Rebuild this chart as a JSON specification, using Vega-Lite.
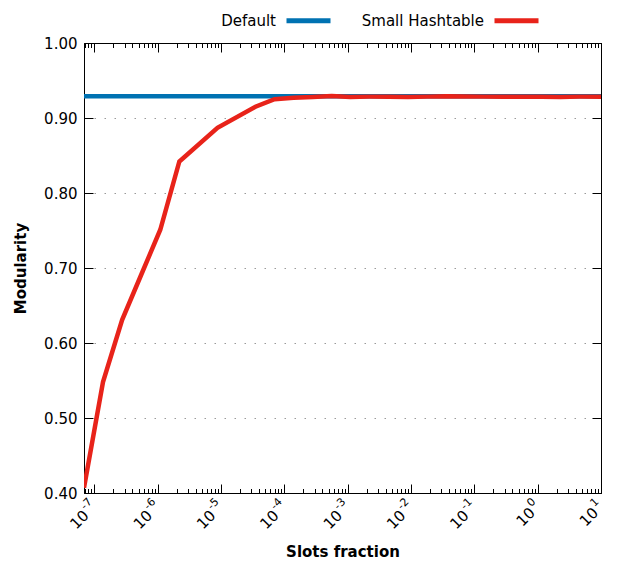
{
  "$schema": "https://vega.github.io/schema/vega-lite/v6.json",
  "width": 517,
  "height": 450,
  "autosize": {"type": "none"},
  "padding": {"left": 84, "top": 43, "right": 30, "bottom": 75},
  "background": "white",
  "config": {
    "view": {"stroke": "black", "strokeWidth": 1},
    "axis": {
      "labelFont": "DejaVu Sans",
      "labelFontSize": 15,
      "labelColor": "black",
      "titleFont": "DejaVu Sans",
      "titleFontSize": 15,
      "titleFontWeight": "bold",
      "titleColor": "black",
      "domainColor": "black",
      "tickColor": "black",
      "tickWidth": 1,
      "domainWidth": 1
    },
    "legend": {
      "labelFont": "DejaVu Sans",
      "labelFontSize": 15,
      "labelColor": "black"
    }
  },
  "datasets": {
    "series": [
      {"series": "Default", "x": 6.87e-8, "y": 0.929},
      {"series": "Default", "x": 1.37e-7, "y": 0.929},
      {"series": "Default", "x": 2.75e-7, "y": 0.929},
      {"series": "Default", "x": 5.5e-7, "y": 0.929},
      {"series": "Default", "x": 1.1e-6, "y": 0.929},
      {"series": "Default", "x": 2.2e-6, "y": 0.929},
      {"series": "Default", "x": 8.8e-6, "y": 0.929},
      {"series": "Default", "x": 3.5e-5, "y": 0.929},
      {"series": "Default", "x": 7.0e-5, "y": 0.929},
      {"series": "Default", "x": 1.4e-4, "y": 0.929},
      {"series": "Default", "x": 2.8e-4, "y": 0.929},
      {"series": "Default", "x": 5.6e-4, "y": 0.929},
      {"series": "Default", "x": 1.1e-3, "y": 0.929},
      {"series": "Default", "x": 4.5e-3, "y": 0.929},
      {"series": "Default", "x": 1.8e-2, "y": 0.929},
      {"series": "Default", "x": 7.2e-2, "y": 0.929},
      {"series": "Default", "x": 0.29, "y": 0.929},
      {"series": "Default", "x": 1.15, "y": 0.929},
      {"series": "Default", "x": 4.6, "y": 0.929},
      {"series": "Default", "x": 10, "y": 0.929},
      {"series": "Small Hashtable", "x": 6.87e-8, "y": 0.407},
      {"series": "Small Hashtable", "x": 1.37e-7, "y": 0.548},
      {"series": "Small Hashtable", "x": 2.75e-7, "y": 0.631},
      {"series": "Small Hashtable", "x": 5.5e-7, "y": 0.691},
      {"series": "Small Hashtable", "x": 1.1e-6, "y": 0.751},
      {"series": "Small Hashtable", "x": 2.2e-6, "y": 0.842},
      {"series": "Small Hashtable", "x": 8.8e-6, "y": 0.887},
      {"series": "Small Hashtable", "x": 3.5e-5, "y": 0.915},
      {"series": "Small Hashtable", "x": 7.0e-5, "y": 0.925},
      {"series": "Small Hashtable", "x": 1.4e-4, "y": 0.927},
      {"series": "Small Hashtable", "x": 2.8e-4, "y": 0.928},
      {"series": "Small Hashtable", "x": 5.6e-4, "y": 0.9293},
      {"series": "Small Hashtable", "x": 1.1e-3, "y": 0.928},
      {"series": "Small Hashtable", "x": 2.2e-3, "y": 0.9285},
      {"series": "Small Hashtable", "x": 4.5e-3, "y": 0.9285},
      {"series": "Small Hashtable", "x": 9.0e-3, "y": 0.928},
      {"series": "Small Hashtable", "x": 1.8e-2, "y": 0.9285},
      {"series": "Small Hashtable", "x": 3.6e-2, "y": 0.929},
      {"series": "Small Hashtable", "x": 7.2e-2, "y": 0.9287},
      {"series": "Small Hashtable", "x": 0.14, "y": 0.9285},
      {"series": "Small Hashtable", "x": 0.29, "y": 0.9285},
      {"series": "Small Hashtable", "x": 0.57, "y": 0.9285},
      {"series": "Small Hashtable", "x": 1.15, "y": 0.9285},
      {"series": "Small Hashtable", "x": 2.3, "y": 0.928},
      {"series": "Small Hashtable", "x": 4.6, "y": 0.9285},
      {"series": "Small Hashtable", "x": 10, "y": 0.9285}
    ]
  },
  "data": {"name": "series"},
  "resolve": {"axis": {"x": "independent", "y": "independent"}},
  "layer": [
    {
      "transform": [{"filter": "datum.series == 'Default'"}],
      "mark": {"type": "line", "strokeWidth": 4.5, "clip": true},
      "encoding": {
        "x": {
          "field": "x", "type": "quantitative",
          "scale": {"type": "log", "domain": [6.87e-8, 10], "nice": false},
          "axis": {
            "orient": "bottom",
            "title": "Slots fraction",
            "titleY": 58,
            "titleBaseline": "middle",
            "values": [1e-7, 1e-6, 1e-5, 1e-4, 1e-3, 1e-2, 1e-1, 1, 10],
            "labels": false,
            "tickSize": -9,
            "grid": false
          }
        },
        "y": {
          "field": "y", "type": "quantitative",
          "scale": {"domain": [0.4, 1.0], "nice": false, "zero": false},
          "axis": {
            "orient": "left",
            "title": "Modularity",
            "titleX": -64,
            "titleBaseline": "middle",
            "values": [0.4, 0.5, 0.6, 0.7, 0.8, 0.9, 1.0],
            "format": ".2f",
            "tickSize": -9,
            "labelPadding": 16,
            "grid": true,
            "gridColor": "#9a9a9a",
            "gridDash": [1.5, 8.5],
            "gridWidth": 1
          }
        },
        "color": {
          "field": "series", "type": "nominal",
          "scale": {"domain": ["Default", "Small Hashtable"], "range": ["#0072b2", "#e8231a"]},
          "legend": {
            "title": null,
            "orient": "none",
            "legendX": 200,
            "legendY": -47,
            "direction": "horizontal",
            "symbolType": "stroke",
            "symbolSize": 1936,
            "symbolStrokeWidth": 5,
            "labelAlign": "right",
            "labelOffset": -57,
            "columnPadding": 20
          }
        }
      }
    },
    {
      "transform": [{"filter": "datum.series == 'Small Hashtable'"}],
      "mark": {"type": "line", "strokeWidth": 4.5, "clip": true},
      "encoding": {
        "x": {
          "field": "x", "type": "quantitative",
          "scale": {"type": "log", "domain": [6.87e-8, 10], "nice": false},
          "axis": {
            "orient": "top",
            "title": null,
            "labels": false,
            "values": [1e-7, 1e-6, 1e-5, 1e-4, 1e-3, 1e-2, 1e-1, 1, 10],
            "tickSize": -9,
            "grid": false
          }
        },
        "y": {
          "field": "y", "type": "quantitative",
          "scale": {"domain": [0.4, 1.0], "nice": false, "zero": false},
          "axis": {
            "orient": "right",
            "title": null,
            "labels": false,
            "values": [0.4, 0.5, 0.6, 0.7, 0.8, 0.9, 1.0],
            "tickSize": -9,
            "grid": false
          }
        },
        "color": {"field": "series", "type": "nominal"}
      }
    },
    {
      "mark": {"type": "point", "opacity": 0},
      "encoding": {
        "x": {
          "field": "x", "type": "quantitative",
          "scale": {"type": "log", "domain": [6.87e-8, 10], "nice": false},
          "axis": {
            "orient": "bottom",
            "title": null,
            "labels": false,
            "domain": false,
            "grid": false,
            "tickSize": -4.5,
            "values": [7e-8, 8e-8, 9e-8, 2e-7, 3e-7, 4e-7, 5e-7, 6e-7, 7e-7, 8e-7, 9e-7, 2e-6, 3e-6, 4e-6, 5e-6, 6e-6, 7e-6, 8e-6, 9e-6, 2e-5, 3e-5, 4e-5, 5e-5, 6e-5, 7e-5, 8e-5, 9e-5, 2e-4, 3e-4, 4e-4, 5e-4, 6e-4, 7e-4, 8e-4, 9e-4, 2e-3, 3e-3, 4e-3, 5e-3, 6e-3, 7e-3, 8e-3, 9e-3, 0.02, 0.03, 0.04, 0.05, 0.06, 0.07, 0.08, 0.09, 0.2, 0.3, 0.4, 0.5, 0.6, 0.7, 0.8, 0.9, 2, 3, 4, 5, 6, 7, 8, 9]
          }
        }
      }
    },
    {
      "mark": {"type": "point", "opacity": 0},
      "encoding": {
        "x": {
          "field": "x", "type": "quantitative",
          "scale": {"type": "log", "domain": [6.87e-8, 10], "nice": false},
          "axis": {
            "orient": "top",
            "title": null,
            "labels": false,
            "domain": false,
            "grid": false,
            "tickSize": -4.5,
            "values": [7e-8, 8e-8, 9e-8, 2e-7, 3e-7, 4e-7, 5e-7, 6e-7, 7e-7, 8e-7, 9e-7, 2e-6, 3e-6, 4e-6, 5e-6, 6e-6, 7e-6, 8e-6, 9e-6, 2e-5, 3e-5, 4e-5, 5e-5, 6e-5, 7e-5, 8e-5, 9e-5, 2e-4, 3e-4, 4e-4, 5e-4, 6e-4, 7e-4, 8e-4, 9e-4, 2e-3, 3e-3, 4e-3, 5e-3, 6e-3, 7e-3, 8e-3, 9e-3, 0.02, 0.03, 0.04, 0.05, 0.06, 0.07, 0.08, 0.09, 0.2, 0.3, 0.4, 0.5, 0.6, 0.7, 0.8, 0.9, 2, 3, 4, 5, 6, 7, 8, 9]
          }
        }
      }
    },
    {
      "mark": {"type": "point", "opacity": 0},
      "encoding": {
        "x": {
          "field": "x", "type": "quantitative",
          "scale": {"type": "log", "domain": [6.87e-8, 10], "nice": false},
          "axis": {
            "orient": "bottom",
            "title": null,
            "domain": false,
            "ticks": false,
            "grid": false,
            "values": [1e-7, 1e-6, 1e-5, 1e-4, 1e-3, 1e-2, 1e-1],
            "labelExpr": "'10'",
            "labelAngle": -45,
            "labelAlign": "right",
            "labelBaseline": "middle",
            "labelOffset": -8.5,
            "labelPadding": 19.5,
            "labelFlush": false,
            "labelOverlap": false
          }
        }
      }
    },
    {
      "mark": {"type": "point", "opacity": 0},
      "encoding": {
        "x": {
          "field": "x", "type": "quantitative",
          "scale": {"type": "log", "domain": [6.87e-8, 10], "nice": false},
          "axis": {
            "orient": "bottom",
            "title": null,
            "domain": false,
            "ticks": false,
            "grid": false,
            "values": [1, 10],
            "labelExpr": "'10'",
            "labelAngle": -45,
            "labelAlign": "right",
            "labelBaseline": "middle",
            "labelOffset": -5.7,
            "labelPadding": 16.7,
            "labelFlush": false,
            "labelOverlap": false
          }
        }
      }
    },
    {
      "mark": {"type": "point", "opacity": 0},
      "encoding": {
        "x": {
          "field": "x", "type": "quantitative",
          "scale": {"type": "log", "domain": [6.87e-8, 10], "nice": false},
          "axis": {
            "orient": "bottom",
            "title": null,
            "domain": false,
            "ticks": false,
            "grid": false,
            "values": [1e-7, 1e-6, 1e-5, 1e-4, 1e-3, 1e-2, 1e-1, 1, 10],
            "labelExpr": "datum.value < 5e-7 ? '-7' : datum.value < 5e-6 ? '-6' : datum.value < 5e-5 ? '-5' : datum.value < 5e-4 ? '-4' : datum.value < 5e-3 ? '-3' : datum.value < 5e-2 ? '-2' : datum.value < 0.5 ? '-1' : datum.value < 5 ? '0' : '1'",
            "labelFontSize": 11,
            "labelAngle": -45,
            "labelAlign": "right",
            "labelBaseline": "middle",
            "labelOffset": -4.2,
            "labelPadding": 6.8,
            "labelFlush": false,
            "labelOverlap": false
          }
        }
      }
    }
  ]
}
